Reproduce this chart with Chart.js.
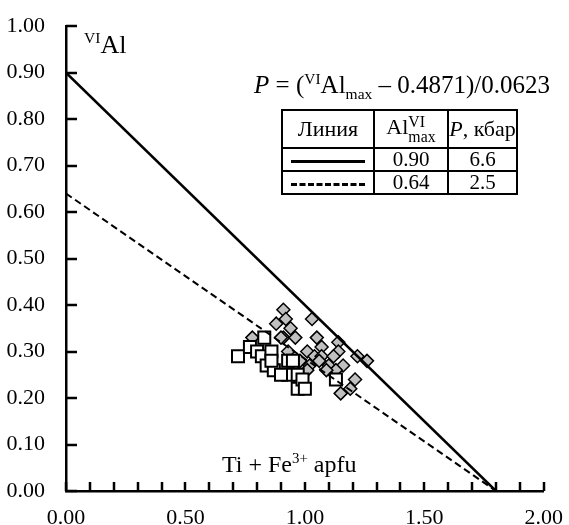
<!DOCTYPE html>
<html>
<head>
<meta charset="utf-8">
<script src="https://cdn.jsdelivr.net/npm/chart.js@4"></script>
<style>
  body { margin: 0; background: #fff; }
  #wrap { position: relative; width: 569px; height: 525px; font-family: "Liberation Serif", serif; color: #000; }
  #wrap canvas { position: absolute; left: 0; top: 0; }
  .lbl { position: absolute; white-space: nowrap; line-height: 1; font-size: 24px; }
  .lbl sup, .lbl sub { font-size: 0.62em; line-height: 0; }
  #tbl { position: absolute; left: 281px; top: 109px; border-collapse: collapse; font-size: 21px; }
  #tbl td { border: 2px solid #000; padding: 0 2px; text-align: center; line-height: 1; }
  .ln { display: inline-block; width: 74px; height: 0; vertical-align: middle; border-top: 3px solid #000; }
  .ln.dash { border-top: 3px dashed #000; }
</style>
</head>
<body>
<div id="wrap">
  <canvas id="chart" width="569" height="525"></canvas>
  <div class="lbl" style="left:84px; top:32px; font-size:26px;"><sup style="font-size:0.6em;">VI</sup>Al</div>
  <div class="lbl" style="left:254px; top:72px; font-size:25px;"><i>P</i> = (<sup>VI</sup>Al<sub>max</sub> – 0.4871)/0.0623</div>
  <table id="tbl">
    <tr style="height:38px; font-size:22px;"><td style="width:86px;">Линия</td><td style="width:68px;">Al<span style="display:inline-block; vertical-align:middle; font-size:0.72em; line-height:0.95; text-align:left;">VI<br>max</span></td><td style="width:67px; padding:0;"><i>P</i>, кбар</td></tr>
    <tr style="height:22px;"><td><span class="ln"></span></td><td>0.90</td><td>6.6</td></tr>
    <tr style="height:22px;"><td><span class="ln dash"></span></td><td>0.64</td><td>2.5</td></tr>
  </table>
  <div class="lbl" style="left:222px; top:452px;">Ti + Fe<sup>3+</sup> apfu</div>
</div>
<script>
// line endpoints
const lineX = [0, 1.8];
const solidY = [0.90, 0];
const dashedY = [0.64, 0];

// white squares
const squareX = [0.72, 0.77, 0.80, 0.83, 0.82, 0.86, 0.84, 0.87, 0.86, 0.93, 0.95, 0.93, 0.97, 0.97, 0.99, 1.00, 1.13, 0.90];
const squareY = [0.29, 0.31, 0.30, 0.33, 0.29, 0.30, 0.27, 0.26, 0.28, 0.28, 0.28, 0.25, 0.25, 0.22, 0.24, 0.22, 0.24, 0.25];

// grey diamonds
const diamondX = [0.91, 0.88, 0.92, 0.94, 1.03, 0.78, 0.91, 0.96, 1.05, 0.93, 1.01, 1.07, 1.14, 1.14, 1.04, 1.07, 1.12,
                  0.99, 1.02, 1.06, 1.10, 1.16, 1.13, 1.09, 1.22, 1.26, 1.21, 1.19, 1.15, 0.90, 0.98, 1.01];
const diamondY = [0.39, 0.36, 0.37, 0.35, 0.37, 0.33, 0.33, 0.33, 0.33, 0.30, 0.30, 0.31, 0.32, 0.30, 0.29, 0.29, 0.29,
                  0.27, 0.27, 0.28, 0.27, 0.27, 0.26, 0.26, 0.29, 0.28, 0.24, 0.22, 0.21, 0.33, 0.28, 0.26];

const xTicks = [0, 0.5, 1.0, 1.5, 2.0];
const yTicks = [0, 0.1, 0.2, 0.3, 0.4, 0.5, 0.6, 0.7, 0.8, 0.9, 1.0];
const xMinor = [0, 0.1, 0.2, 0.3, 0.4, 0.5, 0.6, 0.7, 0.8, 0.9, 1.0, 1.1, 1.2, 1.3, 1.4, 1.5, 1.6, 1.7, 1.8, 1.9, 2.0];

const toPts = (xs, ys) => xs.map((x, i) => ({ x: x, y: ys[i] }));

// inward tick marks drawn through the scales
const innerTicks = {
  id: 'innerTicks',
  afterDraw(chart) {
    const { ctx, scales: { x, y } } = chart;
    ctx.save();
    ctx.strokeStyle = '#000';
    ctx.lineWidth = 2.5;
    ctx.beginPath();
    xMinor.forEach(v => {
      const px = Math.round(x.getPixelForValue(v));
      ctx.moveTo(px, y.bottom);
      ctx.lineTo(px, y.bottom - 9);
    });
    yTicks.forEach(v => {
      const py = Math.round(y.getPixelForValue(v));
      ctx.moveTo(x.left, py);
      ctx.lineTo(x.left + 11, py);
    });
    ctx.stroke();
    ctx.restore();
  }
};

new Chart(document.getElementById('chart'), {
  type: 'scatter',
  data: {
    datasets: [
      {
        type: 'line', data: toPts(lineX, solidY), borderColor: '#000', borderWidth: 2.5,
        pointRadius: 0, fill: false
      },
      {
        type: 'line', data: toPts(lineX, dashedY), borderColor: '#000', borderWidth: 2,
        borderDash: [7, 4], pointRadius: 0, fill: false
      },
      {
        data: toPts(squareX, squareY), pointStyle: 'rect', pointRadius: 8.5,
        backgroundColor: '#fff', borderColor: '#000', borderWidth: 2
      },
      {
        data: toPts(diamondX, diamondY), pointStyle: 'rectRot', pointRadius: 6.5,
        backgroundColor: '#c0c0c0', borderColor: '#000', borderWidth: 1.5
      }
    ]
  },
  options: {
    responsive: false,
    animation: false,
    layout: { padding: { top: 22, right: 24 } },
    plugins: { legend: { display: false }, tooltip: { enabled: false } },
    scales: {
      x: {
        type: 'linear', min: 0, max: 2,
        afterFit: s => { s.height = 34; },
        afterBuildTicks: s => { s.ticks = xTicks.map(v => ({ value: v })); },
        ticks: { color: '#000', padding: 6, font: { family: 'Liberation Serif', size: 22 }, callback: v => v.toFixed(2) },
        grid: { display: false },
        border: { display: true, color: '#000', width: 2.5 }
      },
      y: {
        type: 'linear', min: 0, max: 1,
        afterFit: s => { s.width = 66; },
        afterBuildTicks: s => { s.ticks = yTicks.map(v => ({ value: v })); },
        ticks: { color: '#000', padding: 13, font: { family: 'Liberation Serif', size: 22 }, callback: v => v.toFixed(2) },
        grid: { display: false },
        border: { display: true, color: '#000', width: 2.5 }
      }
    }
  },
  plugins: [innerTicks]
});
</script>
</body>
</html>
